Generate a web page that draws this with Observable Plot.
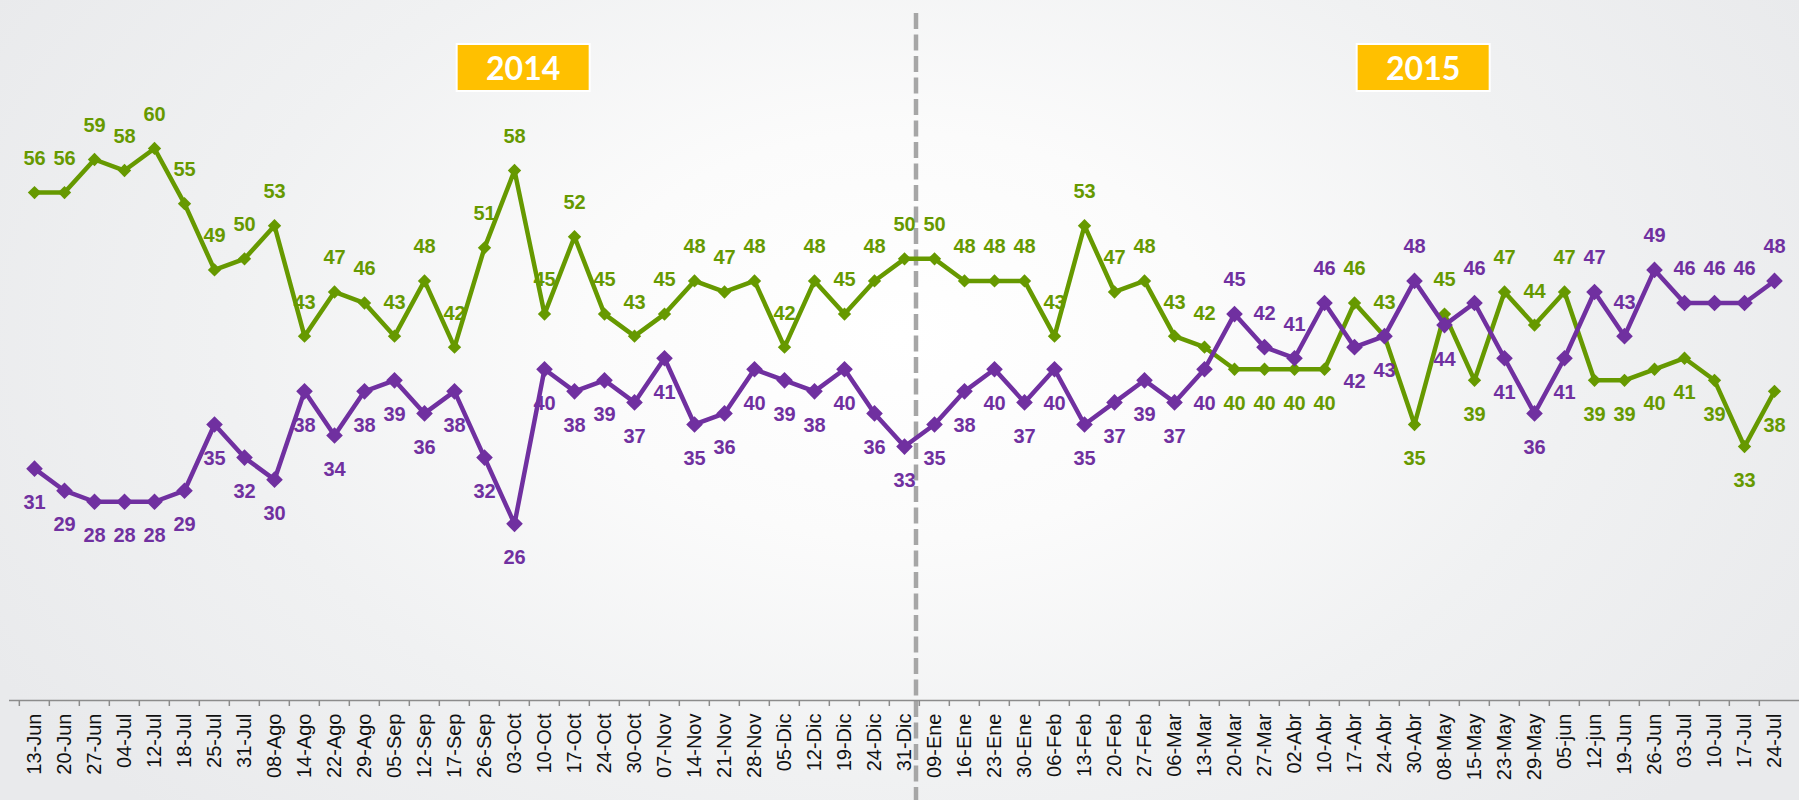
<!DOCTYPE html>
<html><head><meta charset="utf-8">
<script src="https://cdn.jsdelivr.net/npm/d3@7"></script>
<script src="https://cdn.jsdelivr.net/npm/@observablehq/plot@0.6"></script>
<style>
html,body{margin:0;padding:0;}
body{width:1799px;height:800px;overflow:hidden;background:radial-gradient(ellipse 58% 85% at 50% 42%, #ffffff 0%, #fbfbfb 30%, #f0f1f2 65%, #e9eaec 100%);}
#chart{position:relative;width:1799px;height:800px;}
svg{background:transparent;}
</style></head><body><div id="chart"></div>
<script>
const dates = ["13-Jun","20-Jun","27-Jun","04-Jul","12-Jul","18-Jul","25-Jul","31-Jul","08-Ago","14-Ago","22-Ago","29-Ago","05-Sep","12-Sep","17-Sep","26-Sep","03-Oct","10-Oct","17-Oct","24-Oct","30-Oct","07-Nov","14-Nov","21-Nov","28-Nov","05-Dic","12-Dic","19-Dic","24-Dic","31-Dic",
  "09-Ene","16-Ene","23-Ene","30-Ene","06-Feb","13-Feb","20-Feb","27-Feb","06-Mar","13-Mar","20-Mar","27-Mar","02-Abr","10-Abr","17-Abr","24-Abr","30-Abr","08-May","15-May","23-May","29-May","05-jun","12-jun","19-Jun","26-Jun","03-Jul","10-Jul","17-Jul","24-Jul"];
const greenValues = [56,56,59,58,60,55,49,50,53,43,47,46,43,48,42,51,58,45,52,45,43,45,48,47,48,42,48,45,48,50,
  50,48,48,48,43,53,47,48,43,42,40,40,40,40,46,43,35,45,39,47,44,47,39,39,40,41,39,33,38];
const purpleValues = [31,29,28,28,28,29,35,32,30,38,34,38,39,36,38,32,26,40,38,39,37,41,35,36,40,39,38,40,36,33,
  35,38,40,37,40,35,37,39,37,40,45,42,41,46,42,43,48,44,46,41,36,41,47,43,49,46,46,46,48];
const yearLabels = ["2014","2015"];
const yearAnchors = ["03-Oct","30-Abr"];
const splitDate = "09-Ene";

const GREEN = "#669900", PURPLE = "#7030A0", AXIS = "#8c8c8c";
const W = 1799, H = 800, ML = 9, MR = 0, MT = 0, MB = 100;
const bw = (W - ML - MR) / dates.length;

const rows = dates.map((d, i) => ({date: d, green: greenValues[i], purple: purpleValues[i]}));

const labelStyle = {fontSize: 20, fontWeight: "bold"};

const chart = Plot.plot({
  width: W, height: H,
  marginLeft: ML, marginRight: MR, marginTop: MT, marginBottom: MB,
  style: {fontFamily: "'Liberation Sans', Arial, sans-serif", background: "transparent", overflow: "visible"},
  x: {type: "band", domain: dates, padding: 0, label: null},
  y: {domain: [10, 73.4], axis: null},
  marks: [
    Plot.ruleY([10], {stroke: AXIS, strokeWidth: 1.5}),
    Plot.axisX({tickSize: 6, tickFormat: () => "", dx: -bw / 2, stroke: AXIS, strokeWidth: 1.5, label: null}),
    Plot.axisX({tickSize: 0, tickPadding: 13, tickRotate: -90, fontSize: 20, fill: "#111", label: null}),
    Plot.line(rows, {x: "date", y: "green", stroke: GREEN, strokeWidth: 4.5}),
    Plot.dot(rows, {x: "date", y: "green", symbol: "diamond2", r: 6, fill: GREEN}),
    Plot.line(rows, {x: "date", y: "purple", stroke: PURPLE, strokeWidth: 4.5}),
    Plot.dot(rows, {x: "date", y: "purple", symbol: "diamond2", r: 7.5, fill: PURPLE}),
    Plot.text(rows, {filter: d => d.green >= d.purple, x: "date", y: "green", text: d => String(d.green), dy: -34, fill: GREEN, ...labelStyle}),
    Plot.text(rows, {filter: d => d.green < d.purple, x: "date", y: "green", text: d => String(d.green), dy: 34, fill: GREEN, ...labelStyle}),
    Plot.text(rows, {filter: d => d.green >= d.purple, x: "date", y: "purple", text: d => String(d.purple), dy: 34, fill: PURPLE, ...labelStyle}),
    Plot.text(rows, {filter: d => d.green < d.purple, x: "date", y: "purple", text: d => String(d.purple), dy: -34, fill: PURPLE, ...labelStyle})
  ]
});

document.getElementById("chart").appendChild(chart);

const xs = chart.scale("x");
const svg = d3.select(chart);

// dashed separator between years, at the band boundary
const sx = xs.apply(splitDate) - 3;
svg.insert("line", ":first-child")
  .attr("x1", sx).attr("x2", sx).attr("y1", 13).attr("y2", H)
  .attr("stroke", "#a6a6a6").attr("stroke-width", 4.5).attr("stroke-dasharray", "16 5.5");

// year boxes
yearLabels.forEach((lab, i) => {
  const cx = xs.apply(yearAnchors[i]) + bw / 2 + 9;
  const g = svg.append("g");
  g.append("rect").attr("x", cx - 66.5).attr("y", 44).attr("width", 133).attr("height", 47)
    .attr("fill", "#FFC000").attr("stroke", "#ffffff").attr("stroke-width", 2);
  g.append("text").attr("x", cx).attr("y", 68).attr("dy", "0.36em").attr("text-anchor", "middle")
    .attr("fill", "#ffffff").attr("font-family", "Lato, 'Open Sans', sans-serif").attr("font-weight", "bold")
    .attr("font-size", 32).text(lab);
});
</script>
</body></html>
